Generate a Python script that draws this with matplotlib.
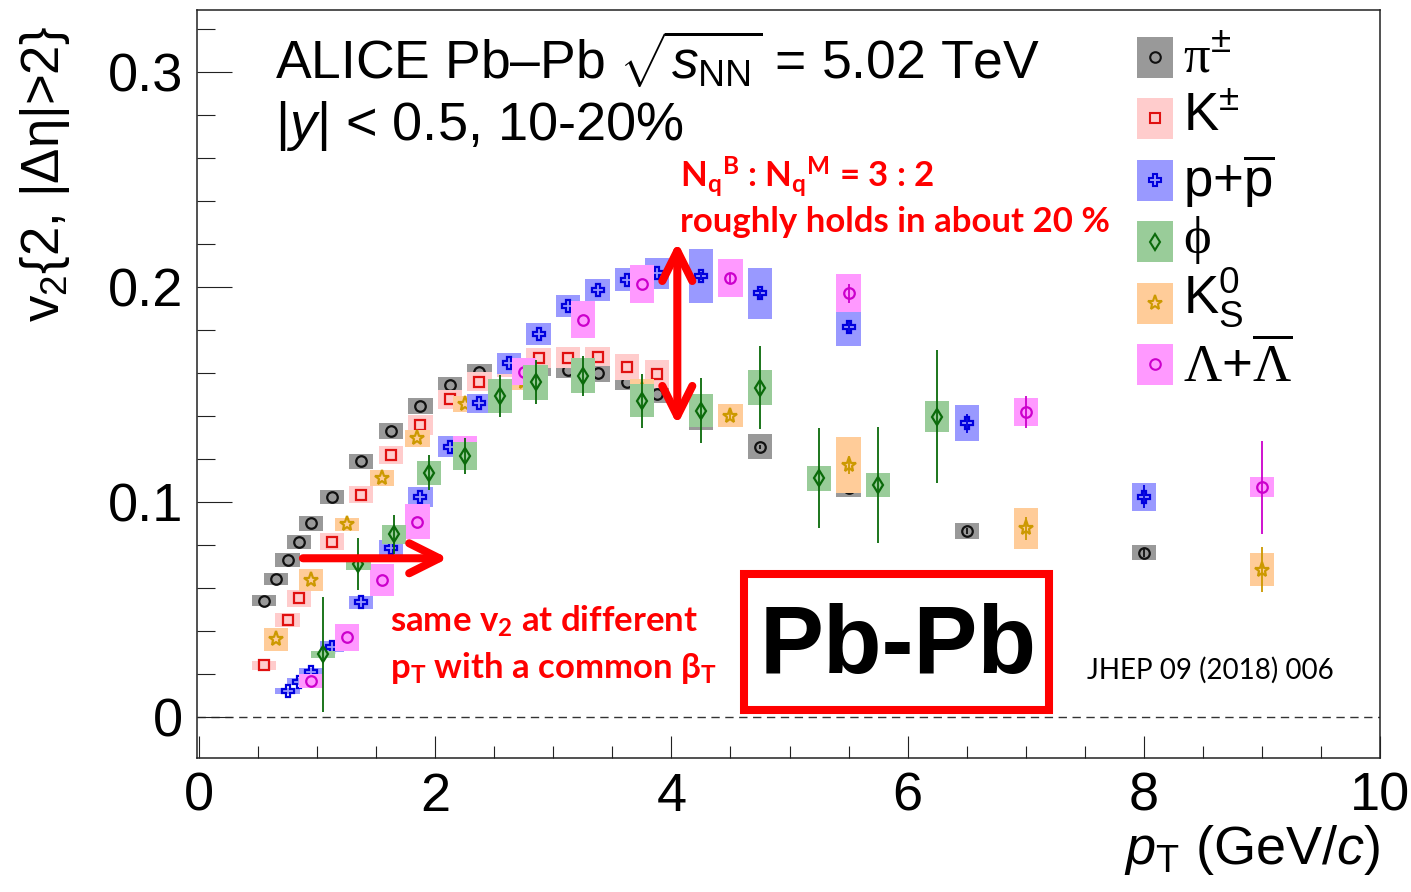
import matplotlib
matplotlib.use("Agg")
import matplotlib.pyplot as plt
import numpy as np
from matplotlib.patches import Rectangle, FancyArrowPatch, ArrowStyle
from matplotlib.lines import Line2D

plt.rcParams['font.family'] = ['Liberation Sans', 'DejaVu Sans']
plt.rcParams['mathtext.fontset'] = 'custom'
plt.rcParams['mathtext.rm'] = 'Liberation Sans'
plt.rcParams['mathtext.it'] = 'Liberation Sans:italic'
plt.rcParams['mathtext.bf'] = 'Liberation Sans:bold'
plt.rcParams['mathtext.sf'] = 'Lato:bold'
plt.rcParams['mathtext.cal'] = 'Liberation Serif'

# ---------------- data: v2{2, |d_eta|>2} vs pT, Pb-Pb 5.02 TeV, 10-20% ----------------
pion_pt = [0.55, 0.65, 0.75, 0.85, 0.95, 1.125, 1.375, 1.625, 1.875, 2.125, 2.375,
           2.625, 2.875, 3.125, 3.375, 3.625, 3.875, 4.25, 4.75, 5.5, 6.5, 8.0]
pion_v2 = [0.054, 0.064, 0.073, 0.0815, 0.090, 0.1023, 0.119, 0.133, 0.1447, 0.1544, 0.1606,
           0.162, 0.1625, 0.1615, 0.160, 0.156, 0.150, 0.138, 0.1256, 0.1065, 0.0865, 0.0763]
pion_stat = [0, 0, 0, 0, 0, 0, 0, 0, 0, 0, 0,
             0, 0, 0, 0, 0, 0, 0, 0.001, 0.001, 0.0015, 0.002]
pion_sys = [0.0026, 0.0028, 0.0033, 0.0033, 0.0033, 0.0033, 0.0035, 0.0035, 0.0037, 0.0037, 0.0037,
            0.0037, 0.0037, 0.0037, 0.004, 0.004, 0.004, 0.0045, 0.0058, 0.004, 0.0037, 0.0035]

kaon_pt = [0.55, 0.65, 0.75, 0.85, 0.95, 1.125, 1.375, 1.625, 1.875, 2.125, 2.375,
           2.625, 2.875, 3.125, 3.375, 3.625, 3.875]
kaon_v2 = [0.024, 0.0345, 0.045, 0.0552, 0.064, 0.0815, 0.1033, 0.1219, 0.1358, 0.1478, 0.156,
           0.163, 0.1668, 0.1671, 0.1676, 0.1627, 0.1595]
kaon_stat = [0] * 17
kaon_sys = [0.0021, 0.0025, 0.0034, 0.0039, 0.004, 0.0039, 0.0039, 0.0042, 0.0046, 0.0044, 0.0046,
            0.0047, 0.0047, 0.005, 0.0044, 0.006, 0.0065]

k0s_pt = [0.65, 0.95, 1.25, 1.55, 1.85, 2.25, 2.75, 3.25, 3.75, 4.5, 5.5, 7.0, 9.0]
k0s_v2 = [0.0361, 0.0637, 0.0896, 0.1113, 0.1296, 0.1456, 0.156, 0.157, 0.152, 0.1401, 0.1172, 0.0878, 0.0684]
k0s_stat = [0, 0, 0, 0, 0, 0, 0, 0, 0, 0.002, 0.004, 0.0054, 0.0105]
k0s_sys = [0.0053, 0.0049, 0.003, 0.0037, 0.004, 0.0037, 0.004, 0.004, 0.005, 0.0053, 0.0132, 0.0095, 0.0077]

prot_pt = [0.75, 0.85, 0.95, 1.125, 1.375, 1.625, 1.875, 2.125, 2.375, 2.625, 2.875,
           3.125, 3.375, 3.625, 3.875, 4.25, 4.75, 5.5, 6.5, 8.0]
prot_v2 = [0.0121, 0.0164, 0.021, 0.0326, 0.0533, 0.0785, 0.1022, 0.1257, 0.1459, 0.1645, 0.178,
           0.1912, 0.1986, 0.2033, 0.2063, 0.2051, 0.197, 0.1812, 0.1366, 0.1025]
prot_stat = [0, 0, 0, 0, 0, 0, 0, 0, 0, 0, 0,
             0, 0, 0, 0, 0.002, 0.002, 0.003, 0.0045, 0.0055]
prot_sys = [0.0015, 0.0017, 0.0018, 0.0026, 0.003, 0.0039, 0.0047, 0.005, 0.0045, 0.005, 0.0051,
            0.0051, 0.0051, 0.0053, 0.0072, 0.0125, 0.012, 0.0086, 0.0084, 0.0065]

lamb_pt = [0.95, 1.25, 1.55, 1.85, 2.25, 2.75, 3.25, 3.75, 4.5, 5.5, 7.0, 9.0]
lamb_v2 = [0.0169, 0.0371, 0.0637, 0.0908, 0.124, 0.1606, 0.1847, 0.2014, 0.204, 0.197, 0.1417, 0.1068]
lamb_stat = [0, 0, 0, 0, 0, 0, 0, 0, 0.002, 0.0043, 0.0075, 0.0217]
lamb_sys = [0.0033, 0.0063, 0.0074, 0.0081, 0.0065, 0.0063, 0.0086, 0.0088, 0.0088, 0.0088, 0.0065, 0.0047]

phi_pt = [1.05, 1.35, 1.65, 1.95, 2.25, 2.55, 2.85, 3.25, 3.75, 4.25, 4.75, 5.25, 5.75, 6.25]
phi_v2 = [0.0292, 0.0712, 0.085, 0.1136, 0.1215, 0.1494, 0.1557, 0.1588, 0.1471, 0.1425, 0.1532,
          0.111, 0.1079, 0.1397]
phi_stat = [0.0267, 0.012, 0.009, 0.008, 0.0083, 0.0097, 0.0102, 0.0093, 0.0126, 0.0153, 0.0192,
            0.0233, 0.027, 0.031]
phi_sys = [0.0016, 0.003, 0.0044, 0.0056, 0.0065, 0.0079, 0.0081, 0.0081, 0.0077, 0.0077, 0.0081,
           0.0058, 0.0056, 0.0072]

legend_labels = [r'$\mathcal{\pi}^{\pm}$', r'$\mathrm{K}^{\pm}$', r'p+$\overline{\mathrm{p}}$',
                 r'$\mathcal{\phi}$', r'$\mathrm{K}^{0}_{\mathrm{S}}$',
                 r'$\mathcal{\Lambda}$+$\overline{\mathcal{\Lambda}}$']
xtick_vals = [0, 2, 4, 6, 8, 10]
xtick_labels = ['0', '2', '4', '6', '8', '10']
ytick_vals = [0, 0.1, 0.2, 0.3]
ytick_labels = ['0', '0.1', '0.2', '0.3']

# ---------------- figure ----------------
W, H = 1411, 892
fig = plt.figure(figsize=(W / 100, H / 100), dpi=100)


def fx(x):
    return x / W


def fy(y):
    return 1 - y / H


ax = fig.add_axes([fx(197), fy(758), (1380 - 197) / W, (758 - 10) / H])
ax.set_xlim(-0.017, 10.0)
ax.set_ylim(-0.0191, 0.3288)

BOXW = 0.205

# style per species: box colour, marker, marker colour, marker size
pion_style = ('#999999', 'o', '#111111', 7.6)
kaon_style = ('#FFCCCC', 's', '#E01010', 6.8)
k0s_style = ('#FFCC99', '*', '#CC9900', 11.0)
prot_style = ('#9999FF', 'P', '#0000DD', 8.2)
lamb_style = ('#FF99FF', 'o', '#CC00CC', 7.6)
phi_style = ('#99CC99', 'd', '#0A6A0A', 8.5)

species = [
    (pion_pt, pion_v2, pion_stat, pion_sys) + pion_style,
    (kaon_pt, kaon_v2, kaon_stat, kaon_sys) + kaon_style,
    (k0s_pt, k0s_v2, k0s_stat, k0s_sys) + k0s_style,
    (prot_pt, prot_v2, prot_stat, prot_sys) + prot_style,
    (lamb_pt, lamb_v2, lamb_stat, lamb_sys) + lamb_style,
    (phi_pt, phi_v2, phi_stat, phi_sys) + phi_style,
]

ax.axhline(0, color='#333333', lw=1.0, ls=(0, (6, 4)), zorder=1)

z = 2
for pt, v2, st, sy, bc, mk, mc, ms in species:
    pt = np.asarray(pt)
    v2 = np.asarray(v2)
    sy = np.asarray(sy)
    ax.bar(pt, 2 * sy, bottom=v2 - sy, width=BOXW, color=bc, linewidth=0, zorder=z)
    ax.errorbar(pt, v2, yerr=st, fmt='none', ecolor=mc, elinewidth=1.3, capsize=0, zorder=z + 0.1)
    ax.plot(pt, v2, ls='none', marker=mk, ms=ms, mfc='none', mec=mc, mew=1.6, zorder=z + 0.2)
    z += 1

# axes frame and ticks
for s in ax.spines.values():
    s.set_linewidth(1.1)
    s.set_color('#222222')
ax.set_xticks(xtick_vals, xtick_labels)
ax.set_yticks(ytick_vals, ytick_labels)
ax.set_xticks(np.arange(0, 10.01, 0.5), minor=True)
ax.set_yticks(np.arange(0, 0.33, 0.02), minor=True)
ax.tick_params(axis='both', which='both', direction='in', top=False, right=False,
               labelsize=39, width=0.8, color='#222222')
ax.tick_params(axis='y', which='major', length=25, pad=10)
ax.tick_params(axis='y', which='minor', length=13)
ax.tick_params(axis='x', which='major', length=16, pad=10)
ax.tick_params(axis='x', which='minor', length=9)

# axis titles
fig.text(fx(45), fy(26), r'$\mathrm{v}_{2}${2, |$\mathrm{\Delta\eta}$|>2}', rotation=90,
         ha='center', va='top', fontsize=38)
fig.text(fx(1380), fy(864), r'$p_{\mathrm{T}}$ (GeV/$c$)', ha='right', va='baseline', fontsize=39)

# header
fig.text(fx(275), fy(80), r'ALICE Pb–Pb $\sqrt{s_{\mathrm{NN}}}$ = 5.02 TeV', ha='left',
         va='baseline', fontsize=38.5)
fig.text(fx(275), fy(140), r'|$y$| < 0.5, 10-20%', ha='left', va='baseline', fontsize=39)

# legend
legend_species = [pion_style, kaon_style, prot_style, phi_style, k0s_style, lamb_style]
row_c = [57, 118, 180, 241.5, 303, 364]
row_base = [72, 130, 197, 253, 313, 382]
for (bc, mk, mc, ms), lab, yc, yb in zip(legend_species, legend_labels, row_c, row_base):
    fig.add_artist(Rectangle((fx(1137), fy(yc + 20.5)), 36 / W, 41 / H, transform=fig.transFigure,
                             facecolor=bc, edgecolor='none'))
    fig.add_artist(Line2D([fx(1155)], [fy(yc)], transform=fig.transFigure, ls='none', marker=mk,
                          ms=ms, mfc='none', mec=mc, mew=1.5))
    fig.text(fx(1183), fy(yb), lab, ha='left', va='baseline', fontsize=38)

# annotations
red = '#FF0000'
head = ArrowStyle('->', head_length=21.6, head_width=10.8)
ax.add_patch(FancyArrowPatch((0.88, 0.0738), (2.11, 0.0738), arrowstyle=head, mutation_scale=1,
                             lw=5.8, color=red, shrinkA=0, shrinkB=0, capstyle='round',
                             joinstyle='round', zorder=30))
head2 = ArrowStyle('<->', head_length=21.6, head_width=10.8)
ax.add_patch(FancyArrowPatch((4.05, 0.1358), (4.05, 0.2209), arrowstyle=head2, mutation_scale=1,
                             lw=5.8, color=red, shrinkA=0, shrinkB=0, capstyle='round',
                             joinstyle='round', zorder=30))

note_kw = dict(color=red, fontfamily='Lato', fontweight='bold', fontsize=25, ha='left', va='baseline')
fig.text(fx(680), fy(187), r'$\mathsf{N_q{}^B}$ : $\mathsf{N_q{}^M}$ = 3 : 2', **note_kw)
fig.text(fx(680), fy(232), 'roughly holds in about 20 %', **note_kw)
fig.text(fx(390), fy(632), r'same $\mathsf{v_2}$ at different', **note_kw)
fig.text(fx(390), fy(678), r'$\mathsf{p_T}$ with a common $\mathsf{\beta_T}$', **note_kw)

fig.add_artist(Rectangle((fx(744), fy(710)), 305 / W, 136 / H, transform=fig.transFigure,
                         fill=False, edgecolor=red, lw=5.8, joinstyle='miter'))
fig.text(fx(898), fy(673), 'Pb-Pb', fontweight='bold', fontsize=69, ha='center', va='baseline')
fig.text(fx(1087), fy(679), 'JHEP 09 (2018) 006', fontfamily='Lato', fontsize=20,
         ha='left', va='baseline')

fig.savefig('out.png', dpi=100)
